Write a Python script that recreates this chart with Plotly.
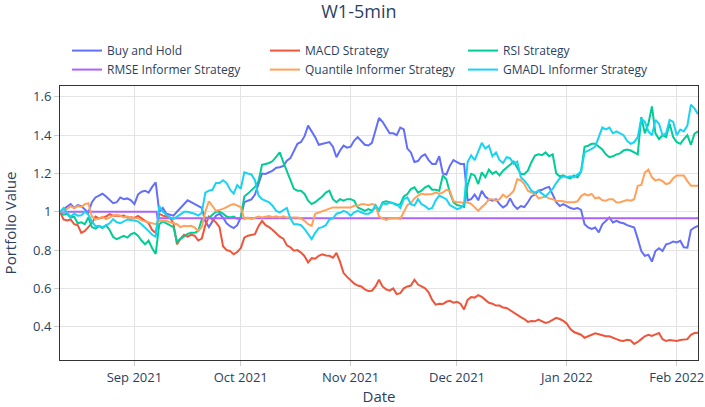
import pandas as pd
import plotly.graph_objects as go

dates = pd.date_range("2021-08-11", "2022-02-07", freq="D")

buy_hold = [
    1.0, 1.014, 1.03, 1.04, 1.02, 1.035, 1.03, 1.01, 0.995, 1.05,
    1.075, 1.084, 1.095, 1.08, 1.06, 1.045, 1.05, 1.075, 1.066, 1.07,
    1.06, 1.04, 1.09, 1.105, 1.11, 1.10, 1.13, 1.154, 1.00, 1.02,
    0.99, 0.985, 0.98, 1.0, 1.02, 1.045, 1.06, 1.05, 1.04, 1.03,
    1.02, 0.95, 0.92, 0.95, 0.98, 0.99, 0.97, 0.94, 0.925, 0.915,
    0.93, 0.97, 1.05, 1.058, 1.065, 1.09, 1.15, 1.20, 1.198, 1.205,
    1.215, 1.23, 1.233, 1.24, 1.267, 1.28, 1.32, 1.355, 1.365, 1.395,
    1.45, 1.42, 1.39, 1.35, 1.355, 1.36, 1.364, 1.34, 1.285, 1.32,
    1.346, 1.335, 1.34, 1.372, 1.39, 1.37, 1.35, 1.346, 1.36, 1.425,
    1.49, 1.47, 1.44, 1.41, 1.41, 1.40, 1.44, 1.43, 1.33, 1.31,
    1.26, 1.265, 1.29, 1.30, 1.27, 1.25, 1.25, 1.29, 1.20, 1.195,
    1.24, 1.27, 1.26, 1.25, 1.25, 1.06, 1.066, 1.09, 1.06, 1.11,
    1.08, 1.065, 1.058, 1.066, 1.04, 1.023, 1.035, 1.07, 1.035, 1.015,
    1.03, 1.025, 1.05, 1.08, 1.09, 1.11, 1.115, 1.125, 1.13, 1.09,
    1.05, 1.03, 1.04, 1.03, 1.02, 1.015, 1.02, 1.01, 0.935, 0.918,
    0.91, 0.918, 0.892, 0.935, 0.953, 0.97, 0.944, 0.953, 0.944, 0.94,
    0.93, 0.925, 0.918, 0.86, 0.795, 0.77, 0.775, 0.74, 0.795, 0.81,
    0.795, 0.83, 0.835, 0.845, 0.84, 0.848, 0.815, 0.813, 0.905, 0.918,
    0.927,
]

macd = [
    1.0, 0.96, 0.955, 0.96, 0.935, 0.93, 0.89, 0.9, 0.92, 0.94,
    0.975, 0.965, 0.97, 0.975, 0.988, 0.98, 0.98, 0.978, 0.98, 0.97,
    0.972, 0.968, 0.978, 0.965, 0.955, 0.94, 0.905, 0.89, 0.99, 0.98,
    0.975, 0.97, 0.94, 0.83, 0.86, 0.88, 0.87, 0.88, 0.875, 0.85,
    0.86, 0.93, 0.975, 0.96, 0.945, 0.92, 0.82, 0.80, 0.795, 0.778,
    0.79, 0.81, 0.865, 0.875, 0.88, 0.883, 0.925, 0.952, 0.93, 0.92,
    0.905, 0.885, 0.87, 0.86, 0.825, 0.815, 0.797, 0.80, 0.787, 0.768,
    0.735, 0.758, 0.755, 0.77, 0.778, 0.772, 0.77, 0.76, 0.785, 0.74,
    0.68, 0.66, 0.64, 0.625, 0.615, 0.61, 0.595, 0.586, 0.588, 0.61,
    0.645, 0.61, 0.595, 0.588, 0.60, 0.57, 0.575, 0.60, 0.61, 0.615,
    0.645, 0.62, 0.61, 0.60, 0.58, 0.54, 0.515, 0.52, 0.518, 0.53,
    0.535, 0.525, 0.53, 0.52, 0.49, 0.54, 0.555, 0.552, 0.565, 0.556,
    0.54, 0.525, 0.52, 0.51, 0.51, 0.50, 0.498, 0.485, 0.475, 0.46,
    0.45, 0.44, 0.425, 0.43, 0.428, 0.437, 0.428, 0.42, 0.425, 0.435,
    0.446, 0.44, 0.43, 0.415, 0.388, 0.372, 0.365, 0.358, 0.342, 0.35,
    0.355, 0.365, 0.36, 0.355, 0.35, 0.35, 0.341, 0.335, 0.328, 0.325,
    0.332, 0.328, 0.31, 0.32, 0.335, 0.35, 0.358, 0.352, 0.36, 0.367,
    0.335, 0.325, 0.33, 0.327, 0.325, 0.33, 0.332, 0.335, 0.358, 0.367,
    0.368,
]

rsi = [
    1.0, 0.985, 0.99, 0.97, 0.975, 0.94, 0.945, 0.935, 0.97, 0.92,
    0.912, 0.925, 0.915, 0.93, 0.905, 0.868, 0.857, 0.865, 0.874, 0.865,
    0.883, 0.89, 0.875, 0.85, 0.83, 0.85, 0.81, 0.78, 0.935, 0.95,
    0.94, 0.93, 0.92, 0.845, 0.86, 0.874, 0.885, 0.89, 0.89, 0.90,
    0.96, 0.97, 0.968, 0.985, 1.0, 1.0, 0.99, 0.975, 0.97, 0.975,
    0.963, 0.97, 1.08, 1.095, 1.11, 1.13, 1.16, 1.245, 1.25, 1.255,
    1.265, 1.29, 1.31, 1.26, 1.215, 1.165, 1.12, 1.11, 1.11, 1.093,
    1.058, 1.04, 1.05, 1.066, 1.08, 1.10, 1.11, 1.066, 1.05, 1.066,
    1.058, 1.066, 1.066, 1.058, 1.023, 1.014, 1.005, 1.014, 1.005, 1.023,
    1.005, 1.05, 1.055, 1.05, 1.045, 1.035, 1.04, 1.08, 1.093, 1.119,
    1.128, 1.10, 1.11, 1.128, 1.136, 1.115, 1.115, 1.11, 1.19, 1.17,
    1.10, 1.05, 1.035, 1.031, 1.025, 1.14, 1.198, 1.19, 1.145, 1.206,
    1.18, 1.22, 1.198, 1.21, 1.19, 1.215, 1.23, 1.245, 1.262, 1.23,
    1.198, 1.198, 1.215, 1.259, 1.294, 1.30, 1.296, 1.31, 1.29, 1.30,
    1.20, 1.185, 1.19, 1.18, 1.175, 1.19, 1.18, 1.21, 1.34, 1.345,
    1.355, 1.355, 1.34, 1.325, 1.30, 1.285, 1.29, 1.30, 1.305, 1.32,
    1.325, 1.32, 1.31, 1.30, 1.495, 1.41, 1.46, 1.55, 1.41, 1.38,
    1.40, 1.39, 1.46, 1.39, 1.364, 1.355, 1.38, 1.40, 1.35, 1.407,
    1.42,
]

rmse_dates = ["2021-08-11 00:00", "2021-09-07 06:00", "2021-09-07 12:00", "2022-02-07 00:00"]
rmse = [1.0, 1.0, 0.966, 0.966]

quantile = [
    1.0, 1.005, 1.015, 1.03, 1.018, 1.03, 1.025, 1.04, 1.045, 0.975,
    0.96, 0.965, 0.975, 0.962, 0.97, 0.98, 0.985, 0.98, 0.97, 0.975,
    0.97, 0.965, 0.968, 0.955, 0.95, 0.944, 0.937, 0.935, 0.953, 0.953,
    0.953, 0.945, 0.94, 0.935, 0.92, 0.927, 0.925, 0.927, 0.918, 0.90,
    0.92, 1.0, 1.055, 1.03, 1.005, 1.01, 1.015, 1.025, 1.035, 1.04,
    1.033, 1.025, 0.962, 0.97, 0.962, 0.97, 0.975, 0.97, 0.975, 0.978,
    0.972, 0.976, 0.97, 0.976, 0.97, 0.97, 0.968, 0.97, 0.965, 0.953,
    0.935, 0.927, 0.99, 0.997, 1.005, 1.01, 1.018, 1.023, 1.023, 1.023,
    1.023, 1.025, 1.023, 1.031, 1.031, 1.04, 1.04, 1.035, 1.04, 1.035,
    0.975, 0.965, 0.958, 0.965, 0.968, 0.968, 0.962, 1.0, 1.035, 1.045,
    1.07, 1.085, 1.095, 1.09, 1.093, 1.093, 1.10, 1.095, 1.10, 1.115,
    1.11, 1.055, 1.05, 1.05, 1.045, 1.05, 1.042, 1.023, 1.005, 1.025,
    1.04, 1.066, 1.066, 1.058, 1.066, 1.09, 1.075, 1.09, 1.11, 1.17,
    1.165, 1.145, 1.11, 1.10, 1.095, 1.07, 1.073, 1.08, 1.07, 1.066,
    1.058, 1.058, 1.055, 1.05, 1.05, 1.05, 1.055, 1.082, 1.093, 1.085,
    1.093, 1.07, 1.075, 1.06, 1.058, 1.066, 1.066, 1.049, 1.05, 1.058,
    1.062, 1.058, 1.066, 1.136, 1.14, 1.205, 1.22, 1.18, 1.163, 1.17,
    1.16, 1.145, 1.15, 1.175, 1.19, 1.189, 1.189, 1.16, 1.136, 1.136,
    1.136,
]

gmadl = [
    1.0, 1.02, 0.995, 0.975, 0.99, 0.98, 0.982, 1.0, 0.985, 0.95,
    0.925, 0.927, 0.92, 0.93, 0.94, 0.962, 0.945, 0.94, 0.95, 0.96,
    0.957, 0.953, 0.95, 0.935, 0.92, 0.90, 0.88, 0.87, 1.03, 1.0,
    0.985, 0.97, 0.962, 0.975, 0.99, 1.0, 1.0, 0.995, 0.99, 0.98,
    0.995, 1.10, 1.11, 1.115, 1.15, 1.15, 1.165, 1.15, 1.115, 1.095,
    1.14, 1.12, 1.206, 1.20, 1.195, 1.165, 1.085, 1.066, 1.06, 1.05,
    1.031, 1.005, 0.997, 1.01, 1.02, 0.965, 0.935, 0.935, 0.93, 0.91,
    0.883, 0.857, 0.89, 0.915, 0.92, 0.93, 0.96, 0.965, 0.99, 0.995,
    1.005, 0.997, 0.98, 0.997, 1.005, 0.997, 0.99, 0.99, 1.0, 1.035,
    1.01, 1.045, 1.04, 1.048, 1.045, 1.04, 1.02, 1.066, 1.075, 1.04,
    1.033, 1.066, 1.04, 1.03, 1.014, 1.02, 1.06, 1.085, 1.075, 1.066,
    1.035, 1.023, 1.014, 1.02, 1.04, 1.26, 1.295, 1.27, 1.32, 1.36,
    1.33, 1.345, 1.29, 1.31, 1.27, 1.255, 1.285, 1.28, 1.25, 1.262,
    1.18, 1.163, 1.14, 1.11, 1.10, 1.11, 1.095, 1.08, 1.10, 1.12,
    1.15, 1.175, 1.185, 1.18, 1.185, 1.18, 1.195, 1.21, 1.31, 1.318,
    1.328, 1.34, 1.39, 1.44, 1.43, 1.44, 1.41, 1.42, 1.41, 1.40,
    1.37, 1.355, 1.364, 1.39, 1.486, 1.47, 1.42, 1.40, 1.48, 1.46,
    1.40, 1.41, 1.48, 1.47, 1.40, 1.43, 1.42, 1.45, 1.56, 1.54,
    1.51,
]

names = ["Buy and Hold", "MACD Strategy", "RSI Strategy",
         "RMSE Informer Strategy", "Quantile Informer Strategy", "GMADL Informer Strategy"]
colors = ["#636efa", "#EF553B", "#00cc96", "#ab63fa", "#FFA15A", "#19d3f3"]

series = [
    (dates, buy_hold), (dates, macd), (dates, rsi),
    (pd.to_datetime(rmse_dates, format="%Y-%m-%d %H:%M"), rmse), (dates, quantile), (dates, gmadl),
]

fig = go.Figure()
for (x, y), name, color in zip(series, names, colors):
    fig.add_trace(go.Scatter(x=x, y=y, mode="lines", name=name,
                             line=dict(color=color, width=2)))

font_color = "#2a3f5f"
fig.update_layout(
    width=705, height=407,
    font=dict(family='"Open Sans", verdana, arial, sans-serif', color=font_color, size=12),
    title=dict(text="W1-5min", x=0.509, xanchor="center", y=1 - 12 / 407, yanchor="middle",
               font=dict(size=18)),
    margin=dict(l=60, r=7, t=86, b=47, autoexpand=False),
    plot_bgcolor="white", paper_bgcolor="white",
    legend=dict(orientation="h", x=0.011, xanchor="left", y=1.007, yanchor="bottom",
                entrywidth=153, entrywidthmode="pixels",
                font=dict(size=12), bgcolor="rgba(0,0,0,0)"),
    showlegend=True,
)
fig.update_xaxes(
    automargin=False,
    title=dict(text="Date", font=dict(size=15), standoff=4),
    dtick="M1", tickformat="%b %Y", tickfont=dict(size=13),
    showgrid=True, gridcolor="#e3e3e3", gridwidth=1,
    showline=True, linecolor="#333", linewidth=1, mirror=True,
    ticks="outside", ticklen=5, tickcolor="#cccccc",
)
fig.update_yaxes(
    automargin=False,
    title=dict(text="Portfolio Value", font=dict(size=15)),
    range=[0.226, 1.657], dtick=0.2, tick0=0, tickfont=dict(size=13),
    showgrid=True, gridcolor="#e3e3e3", gridwidth=1,
    showline=True, linecolor="#333", linewidth=1, mirror=True,
    ticks="outside", ticklen=5, tickcolor="#cccccc", zeroline=False,
)

fig.write_html("out.html", config={"displayModeBar": False},
               post_script="document.body.style.margin='0';")
